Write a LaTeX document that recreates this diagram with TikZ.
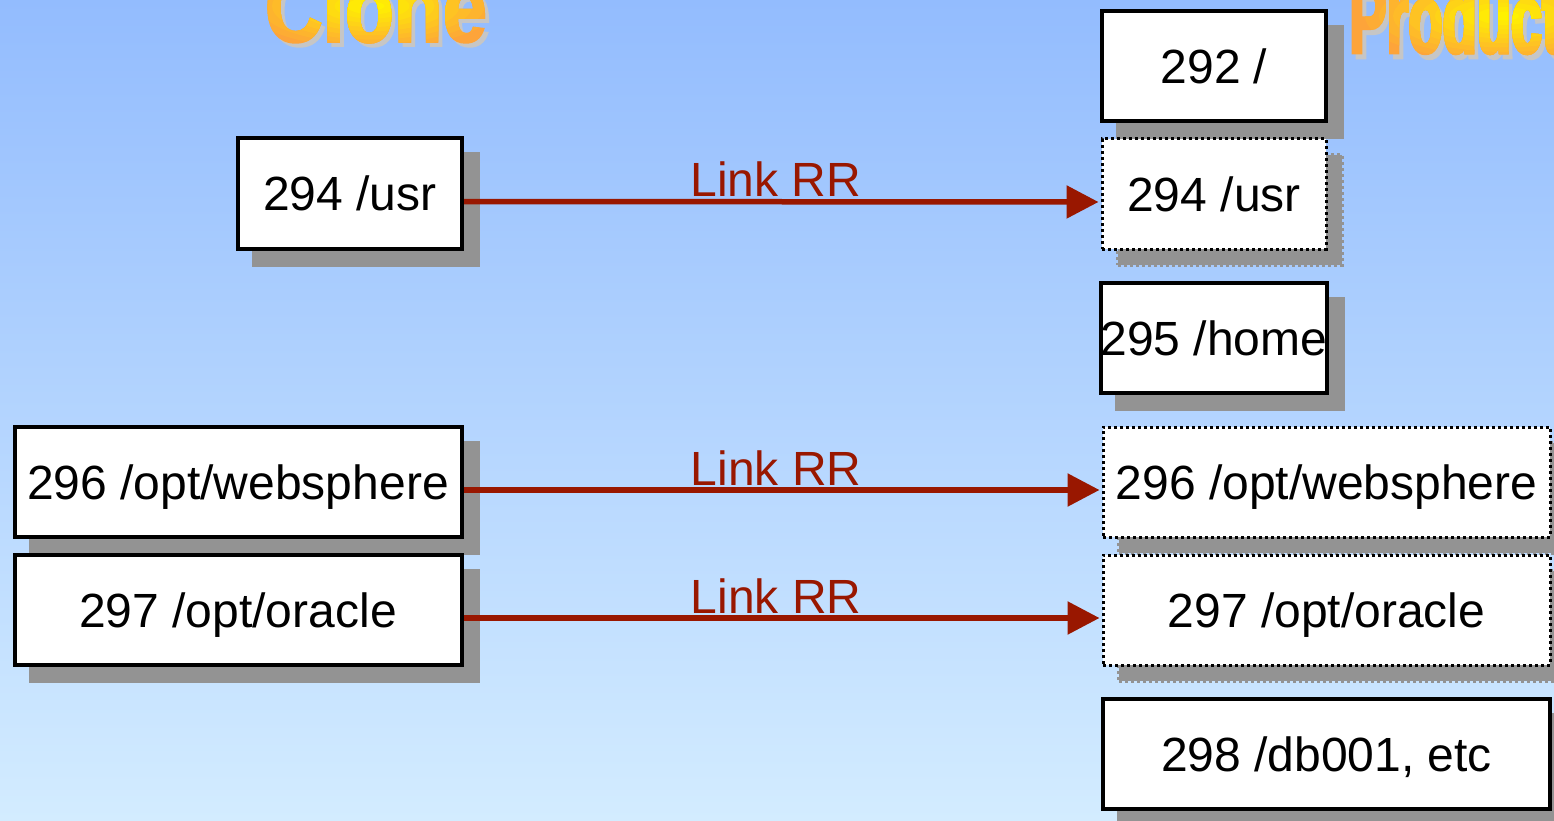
\documentclass[tikz,border=0pt]{standalone}
\usepackage{fontspec}
\setmainfont{Liberation Sans}
\newfontfamily\titlefont[FakeStretch=0.8,FakeBold=1.5]{Liberation Sans Bold}
\newfontfamily\narrowtitlefont[FakeStretch=0.56,FakeBold=2.5]{Liberation Sans Bold}
\usetikzlibrary{arrows.meta,shadows}

\definecolor{bgtop}{HTML}{93BCFE}
\definecolor{bgbot}{HTML}{D3ECFF}
\definecolor{linkred}{HTML}{991700}
\definecolor{shadowgray}{HTML}{939393}
\definecolor{titleshadow}{HTML}{C6C6C6}
\definecolor{titleyellow}{HTML}{FFF200}
\definecolor{titleorange}{HTML}{FDA43A}

\newcommand{\titlesize}{\fontsize{100}{100}\selectfont\titlefont}
\newcommand{\prodsize}{\fontsize{100}{100}\selectfont\narrowtitlefont}

\begin{document}
\begin{tikzpicture}[x=1pt, y=-1pt,
  fsbox/.style={draw=black, line width=4pt, fill=white, inner sep=0pt,
    minimum height=110pt, text height=36pt, text depth=1pt,
    font=\fontsize{48}{56}\selectfont,
    drop shadow={shadow xshift=16pt, shadow yshift=-16pt,
      fill=shadowgray, draw=shadowgray, line width=4pt, opacity=1}},
  narrowbox/.style={fsbox, minimum width=224pt},
  widebox/.style={fsbox, minimum width=447pt},
  linkedbox/.style={line width=3pt, dash pattern=on 3pt off 3pt},
  link/.style={draw=linkred, line width=5.5pt, shorten >=2pt,
    -{Triangle[length=32pt, width=32pt]}},
  linklabel/.style={text=linkred, font=\fontsize{48}{56}\selectfont,
    anchor=base, inner sep=0pt, pos=0.49, yshift=5pt},
  titlenode/.style={inner sep=0pt, anchor=base},
]
\useasboundingbox (0,0) rectangle (1554,821);
\clip (0,0) rectangle (1554,821);

% background
\shade[top color=bgtop, bottom color=bgbot] (0,0) rectangle (1554,821);

% titles: grey shadow, then orange letters brightening to yellow
% towards a centre point (stacked elliptical clips)
\node[titlenode, text=titleshadow] (cloneshadow) at (380,46) {\titlesize Clone};
\node[titlenode, text=titleorange] (clone) at (376,42) {\titlesize Clone};
\foreach \i in {1,...,10} {
  \begin{scope}
    \clip (372,6) ellipse [x radius={125pt*(1-(\i-1)/10)}, y radius={42pt*(1-(\i-1)/10)}];
    \node[titlenode, text=titleyellow!\i0!titleorange] (clone\i) at (376,42) {\titlesize Clone};
  \end{scope}
}

\node[titlenode, anchor=base west, text=titleshadow] (prodshadow) at (1353,58) {\prodsize Production};
\node[titlenode, anchor=base west, text=titleorange] (prod) at (1349,53) {\prodsize Production};
\foreach \i in {1,...,10} {
  \begin{scope}
    \clip (1505,16) ellipse [x radius={140pt*(1-(\i-1)/10)}, y radius={45pt*(1-(\i-1)/10)}];
    \node[titlenode, anchor=base west, text=titleyellow!\i0!titleorange] (prod\i) at (1349,53) {\prodsize Production};
  \end{scope}
}

% clone side
\node[narrowbox] (cusr) at (350,193.5) {294 /usr};
\node[widebox] (cweb) at (238,482) {296 /opt/websphere};
\node[widebox] (cora) at (238,610) {297 /opt/oracle};

% production side
\node[narrowbox] (proot) at (1214,66) {292 /};
\node[narrowbox, linkedbox] (pusr) at (1214,194) {294 /usr};
\node[narrowbox] (phome) at (1214,338) {295 /home};
\node[widebox, linkedbox] (pweb) at (1326.5,482) {296 /opt/websphere};
\node[widebox, linkedbox] (pora) at (1326.5,610) {297 /opt/oracle};
\node[widebox] (pdb) at (1326.5,754) {298 /db001, etc};

% links
\draw[link] ([yshift=-8pt]cusr.east) -- ([yshift=-8pt]pusr.west)
  node[linklabel] {Link RR};
\draw[link] ([yshift=-8pt]cweb.east) -- ([yshift=-8pt]pweb.west)
  node[linklabel] {Link RR};
\draw[link] ([yshift=-8pt]cora.east) -- ([yshift=-8pt]pora.west)
  node[linklabel] {Link RR};
\end{tikzpicture}
\end{document}
